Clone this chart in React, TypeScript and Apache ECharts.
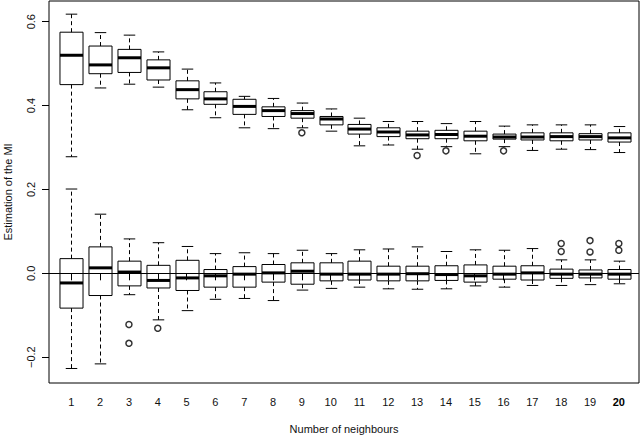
import * as echarts from 'echarts';
import React, { useEffect, useRef } from 'react';

// number of neighbours (x positions)
const neighbours = [1, 2, 3, 4, 5, 6, 7, 8, 9, 10, 11, 12, 13, 14, 15, 16, 17, 18, 19, 20];

// [lower whisker, Q1, median, Q3, upper whisker]
const upperBoxes = [
  [0.278, 0.45, 0.52, 0.575, 0.618],
  [0.442, 0.476, 0.497, 0.542, 0.574],
  [0.451, 0.479, 0.514, 0.534, 0.568],
  [0.444, 0.461, 0.49, 0.509, 0.528],
  [0.39, 0.416, 0.438, 0.459, 0.487],
  [0.371, 0.403, 0.416, 0.433, 0.454],
  [0.347, 0.379, 0.398, 0.415, 0.422],
  [0.345, 0.374, 0.388, 0.397, 0.417],
  [0.347, 0.37, 0.381, 0.388, 0.406],
  [0.339, 0.354, 0.368, 0.374, 0.392],
  [0.304, 0.332, 0.344, 0.355, 0.37],
  [0.306, 0.326, 0.337, 0.347, 0.362],
  [0.296, 0.321, 0.33, 0.339, 0.362],
  [0.302, 0.321, 0.331, 0.341, 0.357],
  [0.285, 0.316, 0.327, 0.339, 0.362],
  [0.302, 0.32, 0.325, 0.332, 0.351],
  [0.293, 0.318, 0.325, 0.335, 0.354],
  [0.296, 0.316, 0.326, 0.335, 0.354],
  [0.295, 0.318, 0.326, 0.333, 0.354],
  [0.288, 0.313, 0.323, 0.335, 0.35],
];

const lowerBoxes = [
  [-0.227, -0.083, -0.023, 0.035, 0.201],
  [-0.216, -0.053, 0.013, 0.063, 0.141],
  [-0.051, -0.03, 0.003, 0.029, 0.082],
  [-0.111, -0.035, -0.017, 0.019, 0.073],
  [-0.089, -0.041, -0.011, 0.031, 0.064],
  [-0.062, -0.033, -0.006, 0.009, 0.047],
  [-0.06, -0.033, -0.002, 0.016, 0.049],
  [-0.065, -0.021, 0.001, 0.021, 0.047],
  [-0.04, -0.026, 0.005, 0.025, 0.055],
  [-0.036, -0.018, -0.002, 0.025, 0.047],
  [-0.033, -0.016, -0.002, 0.029, 0.056],
  [-0.037, -0.018, -0.002, 0.017, 0.058],
  [-0.038, -0.018, -0.001, 0.017, 0.063],
  [-0.037, -0.017, -0.003, 0.018, 0.052],
  [-0.03, -0.021, -0.006, 0.02, 0.056],
  [-0.033, -0.014, -0.002, 0.017, 0.055],
  [-0.029, -0.016, 0.001, 0.018, 0.059],
  [-0.029, -0.012, -0.002, 0.01, 0.032],
  [-0.027, -0.011, -0.002, 0.008, 0.032],
  [-0.025, -0.014, -0.002, 0.009, 0.029],
];

// [neighbours, value]
const outliers = [
  [9, 0.335],
  [13, 0.281],
  [14, 0.292],
  [16, 0.292],
  [3, -0.122],
  [3, -0.167],
  [4, -0.131],
  [18, 0.071],
  [18, 0.052],
  [19, 0.078],
  [19, 0.051],
  [20, 0.071],
  [20, 0.055],
];

const yTicks = [-0.2, 0, 0.2, 0.4, 0.6];

const FONT = 'Liberation Sans, Arial, Helvetica, sans-serif';

const renderBox = (params: any, api: any) => {
  const x = api.value(0);
  const lo = api.coord([x, api.value(1)]);
  const q1 = api.coord([x, api.value(2)]);
  const med = api.coord([x, api.value(3)]);
  const q3 = api.coord([x, api.value(4)]);
  const hi = api.coord([x, api.value(5)]);
  const w = api.size([0.8, 0])[0];
  const cx = Math.round(lo[0]) + 0.5;
  const half = w / 2;
  const cap = w / 4;
  const solid = { stroke: '#000', lineWidth: 1, fill: 'none' };
  const dashed = { stroke: '#000', lineWidth: 1, lineDash: [4, 3] };
  return {
    type: 'group',
    children: [
      { type: 'line', shape: { x1: cx, y1: q3[1], x2: cx, y2: hi[1] }, style: dashed },
      { type: 'line', shape: { x1: cx, y1: q1[1], x2: cx, y2: lo[1] }, style: dashed },
      { type: 'line', shape: { x1: cx - cap, y1: hi[1], x2: cx + cap, y2: hi[1] }, style: solid },
      { type: 'line', shape: { x1: cx - cap, y1: lo[1], x2: cx + cap, y2: lo[1] }, style: solid },
      {
        type: 'rect',
        shape: { x: cx - half, y: q3[1], width: w, height: q1[1] - q3[1] },
        style: solid,
      },
      {
        type: 'line',
        shape: { x1: cx - half, y1: med[1], x2: cx + half, y2: med[1] },
        style: { stroke: '#000', lineWidth: 3 },
      },
    ],
  };
};

const App: React.FC = () => {
  const chartRef = useRef<HTMLDivElement>(null);

  useEffect(() => {
    const myChart = echarts.init(chartRef.current!, null, { renderer: 'svg' });

    const option = {
      animation: false,
      backgroundColor: '#fff',
      textStyle: { fontFamily: FONT },
      grid: {
        left: 49,
        right: 1,
        top: 1,
        bottom: 53,
        show: true,
        borderColor: '#000',
        borderWidth: 1,
        outerBoundsMode: 'none',
      },
      xAxis: {
        type: 'value',
        min: 0.226,
        max: 20.7,
        name: 'Number of neighbours',
        nameLocation: 'middle',
        nameGap: 40,
        nameTextStyle: { fontFamily: FONT, fontSize: 11, color: '#111' },
        axisLine: { show: false },
        splitLine: { show: false },
        axisTick: {
          show: true,
          length: 7,
          inside: false,
          customValues: neighbours,
          lineStyle: { color: '#000' },
        },
        axisLabel: {
          customValues: neighbours,
          margin: 13,
          fontFamily: FONT,
          fontSize: 11,
          color: '#111',
          formatter: (v: number) => (v === 20 ? '{b|20}' : String(v)),
          rich: { b: { fontWeight: 'bold', fontSize: 11, fontFamily: FONT, color: '#000' } },
        },
      },
      yAxis: {
        type: 'value',
        min: -0.2616,
        max: 0.6494,
        name: 'Estimation of the MI',
        nameLocation: 'middle',
        nameGap: 36,
        nameRotate: 90,
        nameTextStyle: { fontFamily: FONT, fontSize: 11, color: '#111' },
        axisLine: { show: false },
        splitLine: { show: false },
        axisTick: {
          show: true,
          length: 7,
          inside: false,
          customValues: yTicks,
          lineStyle: { color: '#000' },
        },
        axisLabel: {
          customValues: yTicks,
          rotate: 90,
          margin: 13,
          fontFamily: FONT,
          fontSize: 11,
          color: '#111',
          formatter: (v: number) => (v < 0 ? '\u2212' + Math.abs(v).toFixed(1) : v.toFixed(1)),
        },
      },
      series: [
        {
          type: 'custom',
          name: 'upper',
          renderItem: renderBox,
          encode: { x: 0, y: [1, 2, 3, 4, 5] },
          data: neighbours.map((n, i) => [n, ...upperBoxes[i]]),
          z: 3,
        },
        {
          type: 'custom',
          name: 'lower',
          renderItem: renderBox,
          encode: { x: 0, y: [1, 2, 3, 4, 5] },
          data: neighbours.map((n, i) => [n, ...lowerBoxes[i]]),
          z: 3,
        },
        {
          type: 'scatter',
          name: 'outliers',
          symbol: 'circle',
          symbolSize: 6,
          itemStyle: { color: 'rgba(0,0,0,0)', borderColor: '#000', borderWidth: 1.5 },
          data: outliers,
          z: 4,
          markLine: {
            silent: true,
            symbol: 'none',
            label: { show: false },
            lineStyle: { color: '#000', type: 'solid', width: 1 },
            data: [{ yAxis: 0 }],
          },
        },
      ],
    };

    myChart.setOption(option);

    return () => {
      myChart.dispose();
    };
  }, []);

  return (
    <div
      ref={chartRef}
      style={{ position: 'fixed', left: 0, top: 0, width: '640px', height: '436px' }}
    />
  );
};

export default App;
